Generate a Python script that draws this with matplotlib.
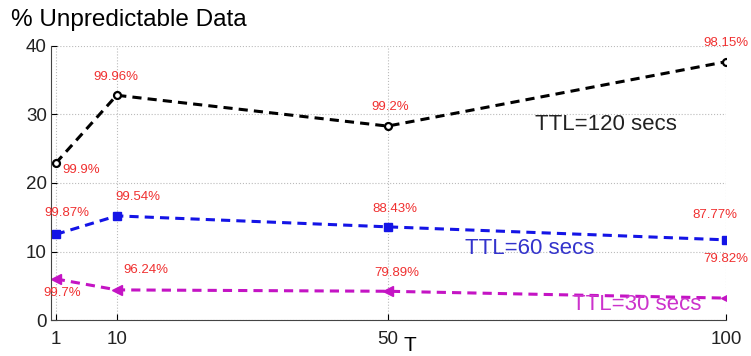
import matplotlib
matplotlib.use("Agg")
import matplotlib.pyplot as plt

plt.rcParams['font.family'] = ['Liberation Sans', 'DejaVu Sans']

# data
T = [1, 10, 50, 100]
ttl120 = [22.9, 32.8, 28.3, 37.7]
ttl60 = [12.5, 15.2, 13.6, 11.7]
ttl30 = [6.0, 4.4, 4.2, 3.2]

lab120 = ["99.9%", "99.96%", "99.2%", "98.15%"]
lab60 = ["99.87%", "99.54%", "88.43%", "87.77%"]
lab30 = ["99.7%", "96.24%", "79.89%", "79.82%"]

# label anchor positions (data coords)
pos120 = [(2.0, 21.9, 'left'), (9.9, 35.5, 'center'), (50.4, 31.1, 'center'), (100, 40.4, 'center')]
pos60 = [(2.6, 15.6, 'center'), (13.1, 18.0, 'center'), (51.0, 16.2, 'center'), (98.3, 15.3, 'center')]
pos30 = [(1.9, 3.9, 'center'), (14.3, 7.3, 'center'), (51.4, 6.9, 'center'), (100, 8.9, 'center')]

fig = plt.figure(figsize=(7.51, 3.56), dpi=100)
ax = fig.add_axes([0.068, 0.101, 0.899, 0.770])

ax.plot(T, ttl120, linestyle='--', color='black', lw=2.2, marker='o',
        markersize=5, markerfacecolor='white', markeredgewidth=1.6, dashes=(3, 2))
ax.plot(T, ttl60, linestyle='--', color='#1414e6', lw=2.2, marker='s',
        markersize=5.5, dashes=(3, 2))
ax.plot(T, ttl30, linestyle='--', color='#c414c4', lw=2.2, marker='<',
        markersize=6.5, dashes=(3, 2))

red = '#f03030'
for labs, poss in [(lab120, pos120), (lab60, pos60), (lab30, pos30)]:
    for s, (x, y, ha) in zip(labs, poss):
        ax.text(x, y, s, color=red, fontsize=9.5, ha=ha, va='center', clip_on=False)

ax.text(71.7, 28.6, "TTL=120 secs", fontsize=16, color='#222222', va='center')
ax.text(61.4, 10.5, "TTL=60 secs", fontsize=16, color='#3333cc', va='center')
ax.text(77.3, 2.2, "TTL=30 secs", fontsize=16, color='#cc33cc', va='center')

ax.set_xlim(0.3, 100)
ax.set_ylim(0, 40)
ax.set_xticks(T)
ax.set_yticks([0, 10, 20, 30, 40])
ax.tick_params(direction='in', labelsize=13.5, length=4, width=0.8, pad=3,
               labelcolor='#222222')
ax.tick_params(axis='x', pad=8)
ax.grid(True, linestyle=':', color='#bbbbbb', lw=0.8)
ax.spines['top'].set_visible(False)
ax.spines['right'].set_visible(False)
for sp in ['left', 'bottom']:
    ax.spines[sp].set_color('#444444')

fig.text(0.015, 0.945, "% Unpredictable Data", fontsize=17.5, va='center', ha='left')
fig.text(0.546, 0.004, "T", fontsize=15, va='bottom', ha='center')

fig.savefig("out.png", dpi=100)
